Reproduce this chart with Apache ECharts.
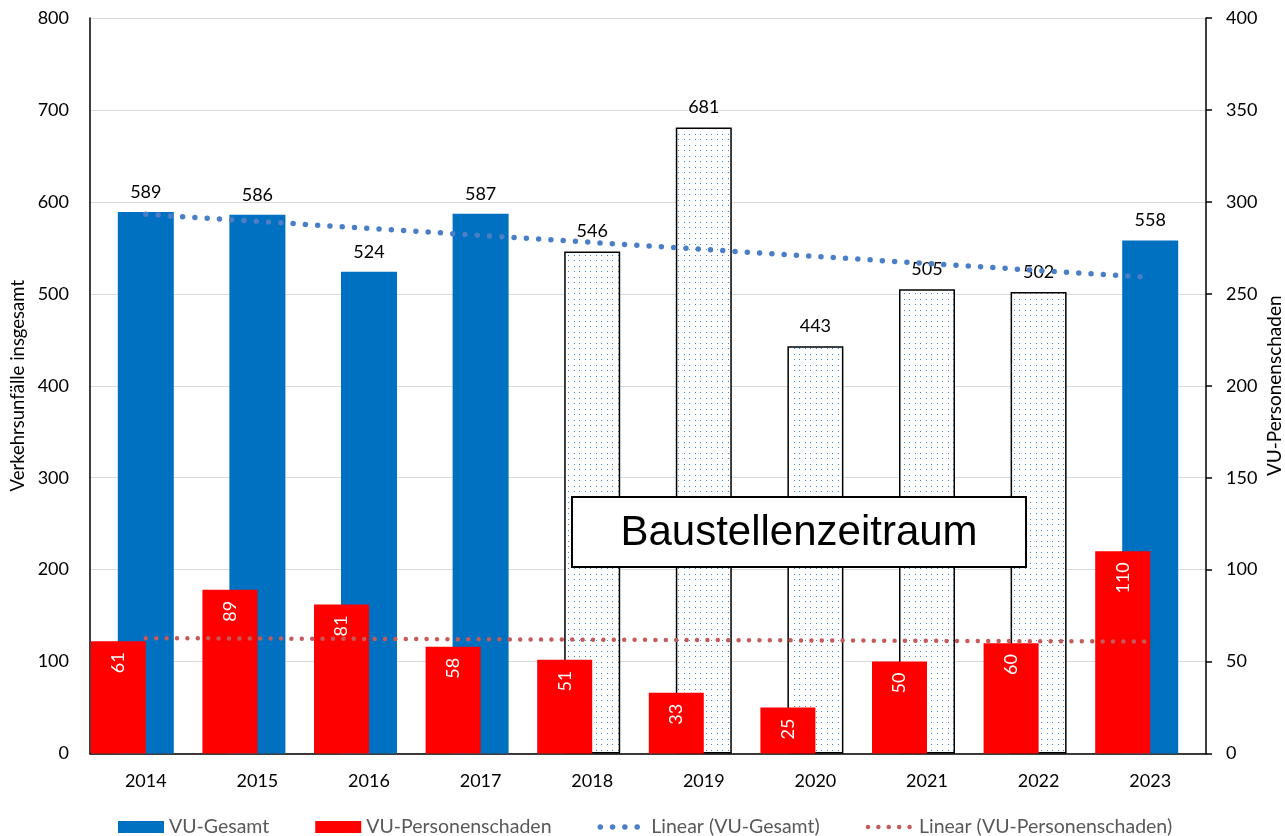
<!DOCTYPE html>
<html>
<head>
<meta charset="utf-8">
<script src="https://cdn.jsdelivr.net/npm/echarts@6/dist/echarts.min.js"></script>
<style>
  html, body { margin: 0; padding: 0; background: #fff; }
  #chart { width: 1285px; height: 836px; }
</style>
</head>
<body>
<div id="chart"></div>
<script>
// Jahre und Unfallzahlen
const jahre = ['2014', '2015', '2016', '2017', '2018', '2019', '2020', '2021', '2022', '2023'];
const vuGesamt = [589, 586, 524, 587, 546, 681, 443, 505, 502, 558];
const vuPersonenschaden = [61, 89, 81, 58, 51, 33, 25, 50, 60, 110];
// Jahre mit Baustelle (gepunktete Balken)
const baustellenJahre = ['2018', '2019', '2020', '2021', '2022'];

const schrift = 'Lato, "Open Sans", sans-serif';
const trendBlau = { color: '#4a7ec6', width: 5.5, type: [0, 12.3], cap: 'round' };
const trendRot = { color: '#c55a5a', width: 4.5, type: [0, 10.4], cap: 'round' };

// Lineare Trendlinie (kleinste Quadrate) über die Jahresreihe
function linearerTrend(werte) {
  const n = werte.length;
  const mx = (n - 1) / 2;
  const my = werte.reduce((s, v) => s + v, 0) / n;
  let sxy = 0, sxx = 0;
  werte.forEach((v, i) => { sxy += (i - mx) * (v - my); sxx += (i - mx) * (i - mx); });
  const b = sxy / sxx;
  const a = my - b * mx;
  return werte.map((_, i) => +(a + b * i).toFixed(3));
}

// Punktraster für die Baustellen-Balken
function punktMuster() {
  const c = document.createElement('canvas');
  c.width = 11; c.height = 11;
  const ctx = c.getContext('2d');
  ctx.fillStyle = '#ffffff';
  ctx.fillRect(0, 0, 11, 11);
  ctx.fillStyle = '#3b86cc';
  [[2, 2], [7, 2], [2, 7], [7, 7]].forEach(([x, y]) => ctx.fillRect(x, y, 1, 1));
  return c;
}
const muster = { image: punktMuster(), repeat: 'repeat' };

const gesamtDaten = jahre.map((j, i) => baustellenJahre.includes(j)
  ? { value: vuGesamt[i], itemStyle: { color: muster, borderColor: '#000', borderWidth: 1.5 } }
  : vuGesamt[i]);

const chart = echarts.init(document.getElementById('chart'), null, { renderer: 'canvas' });

chart.setOption({
  animation: false,
  backgroundColor: '#fff',
  textStyle: { fontFamily: schrift },
  grid: { left: 90, right: 79, top: 18, bottom: 82.5, containLabel: false, outerBoundsMode: 'none' },
  legend: {
    left: 118,
    top: 817,
    padding: 0,
    itemWidth: 46,
    itemHeight: 12,
    itemGap: 46,
    textStyle: { color: '#595959', fontSize: 19.5, fontFamily: schrift },
    data: [
      { name: 'VU-Gesamt', icon: 'rect' },
      { name: 'VU-Personenschaden', icon: 'rect' },
      { name: 'Linear (VU-Gesamt)', itemStyle: { opacity: 0 }, lineStyle: trendBlau },
      { name: 'Linear (VU-Personenschaden)', itemStyle: { opacity: 0 }, lineStyle: trendRot }
    ]
  },
  xAxis: [
    {
      type: 'category',
      data: jahre,
      axisLine: { lineStyle: { color: '#000', width: 1.5 } },
      axisTick: { show: false },
      axisLabel: { color: '#000', fontSize: 18, margin: 19, fontFamily: schrift }
    },
    {
      type: 'category',
      data: jahre,
      show: false
    }
  ],
  yAxis: [
    {
      type: 'value',
      min: 0, max: 800, interval: 100,
      name: 'Verkehrsunfälle insgesamt',
      nameLocation: 'middle',
      nameRotate: 90,
      nameGap: 62,
      nameMoveOverlap: false,
      nameTextStyle: { color: '#000', fontSize: 18.5, fontFamily: schrift },
      axisLine: { show: true, lineStyle: { color: '#000', width: 1.5 } },
      axisTick: { show: false },
      axisLabel: { color: '#000', fontSize: 18, margin: 21, fontFamily: schrift },
      splitLine: { show: true, lineStyle: { color: '#d9d9d9', width: 1 } }
    },
    {
      type: 'value',
      min: 0, max: 400, interval: 50,
      position: 'right',
      name: 'VU-Personenschaden',
      nameLocation: 'middle',
      nameRotate: 90,
      nameGap: 59,
      nameMoveOverlap: false,
      nameTextStyle: { color: '#000', fontSize: 19, fontFamily: schrift },
      axisLine: { show: true, lineStyle: { color: '#000', width: 1.5 } },
      axisTick: { show: true, length: 6, lineStyle: { color: '#000', width: 1.5 } },
      axisLabel: { color: '#000', fontSize: 18, margin: 20, fontFamily: schrift },
      splitLine: { show: false }
    }
  ],
  series: [
    {
      name: 'VU-Gesamt',
      type: 'bar',
      xAxisIndex: 0,
      yAxisIndex: 0,
      barWidth: 56,
      itemStyle: { color: '#0070c0' },
      label: {
        show: true, position: 'top', distance: 11,
        color: '#000', fontSize: 18, fontFamily: schrift
      },
      data: gesamtDaten
    },
    {
      name: 'VU-Personenschaden',
      type: 'bar',
      xAxisIndex: 1,
      yAxisIndex: 1,
      barWidth: 55,
      barGap: 0,
      itemStyle: { color: '#ff0000' },
      label: {
        show: true, position: 'insideTop', distance: 11,
        rotate: 90, align: 'right', verticalAlign: 'middle',
        color: '#fff', fontSize: 18, fontFamily: schrift
      },
      data: vuPersonenschaden
    },
    {
      // leerer Begleitbalken, schiebt die roten Balken links neben die Kategoriemitte
      name: 'abstand',
      type: 'bar',
      xAxisIndex: 1,
      yAxisIndex: 1,
      barWidth: 55,
      barGap: 0,
      silent: true,
      data: jahre.map(() => null)
    },
    {
      name: 'Linear (VU-Gesamt)',
      type: 'line',
      xAxisIndex: 0,
      yAxisIndex: 0,
      symbol: 'none',
      silent: true,
      z: 5,
      itemStyle: { color: trendBlau.color },
      lineStyle: trendBlau,
      data: linearerTrend(vuGesamt)
    },
    {
      name: 'Linear (VU-Personenschaden)',
      type: 'line',
      xAxisIndex: 0,
      yAxisIndex: 1,
      symbol: 'none',
      silent: true,
      z: 5,
      itemStyle: { color: trendRot.color },
      lineStyle: trendRot,
      data: linearerTrend(vuPersonenschaden)
    }
  ],
  graphic: [
    {
      type: 'rect',
      z: 100,
      zlevel: 1,
      shape: { x: 572, y: 497, width: 454, height: 70 },
      style: { fill: '#fff', stroke: '#000', lineWidth: 2 }
    },
    {
      type: 'text',
      z: 101,
      zlevel: 1,
      x: 799, y: 533,
      style: {
        text: 'Baustellenzeitraum',
        fill: '#000',
        font: '42px "Liberation Sans", Arial, sans-serif',
        align: 'center',
        verticalAlign: 'middle'
      }
    }
  ]
});
</script>
</body>
</html>
